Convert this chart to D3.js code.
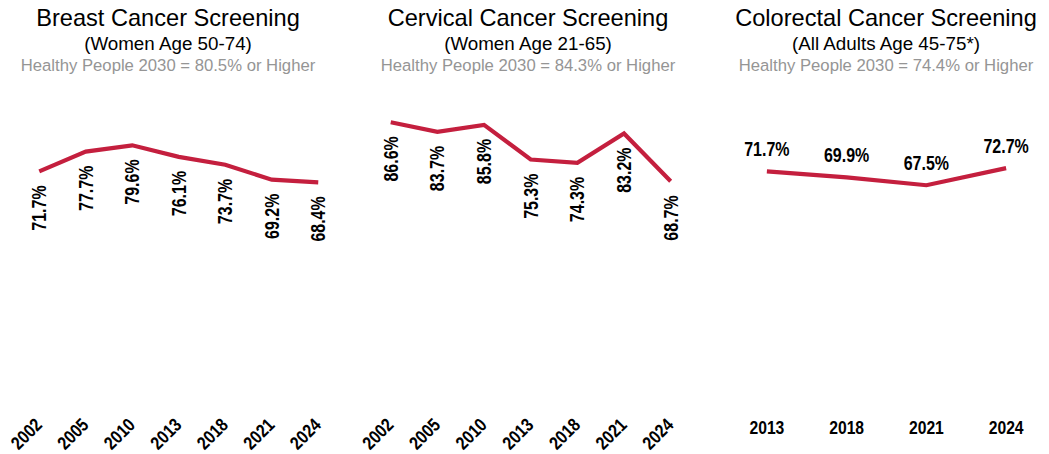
<!DOCTYPE html>
<html>
<head>
<meta charset="utf-8">
<script src="https://cdn.jsdelivr.net/npm/d3@7"></script>
<style>
  html, body { margin: 0; padding: 0; background: #fff; }
  svg { display: block; }
  .title { font-family: "Liberation Sans", Arial, sans-serif; fill: #000; }
  .goal { font-family: "Liberation Sans", Arial, sans-serif; fill: #959595; }
  .num { font-family: "Liberation Sans", Arial, sans-serif; font-weight: bold; fill: #000; }
</style>
</head>
<body>
<svg id="chart" width="1049" height="454"></svg>
<script>
// Screening rates by survey year
const breastYears = ["2002", "2005", "2010", "2013", "2018", "2021", "2024"];
const breastValues = [71.7, 77.7, 79.6, 76.1, 73.7, 69.2, 68.4];

const cervicalYears = ["2002", "2005", "2010", "2013", "2018", "2021", "2024"];
const cervicalValues = [86.6, 83.7, 85.8, 75.3, 74.3, 83.2, 68.7];

const colorectalYears = ["2013", "2018", "2021", "2024"];
const colorectalValues = [71.7, 69.9, 67.5, 72.7];

const panelTitles = ["Breast Cancer Screening", "Cervical Cancer Screening", "Colorectal Cancer Screening"];
const panelSubtitles = ["(Women Age 50-74)", "(Women Age 21-65)", "(All Adults Age 45-75*)"];
const panelGoals = [
  "Healthy People 2030 = 80.5% or Higher",
  "Healthy People 2030 = 84.3% or Higher",
  "Healthy People 2030 = 74.4% or Higher"
];

const svg = d3.select("#chart");
const lineColor = "#c41f3e";
// narrow bold look for numbers: squeeze glyphs along the text direction
const narrow = 0.82;

// shared vertical scale: percent
const y = d3.scaleLinear().domain([0, 100]).range([408, 78]);

const panels = [
  { years: breastYears, values: breastValues, range: [16, 341.5], center: 168, rotated: true },
  { years: cervicalYears, values: cervicalValues, range: [367.4, 694], center: 528, rotated: true },
  { years: colorectalYears, values: colorectalValues, range: [727, 1046], center: 886, rotated: false }
];

panels.forEach((p, i) => {
  const g = svg.append("g");
  const x = d3.scalePoint().domain(p.years).range(p.range).padding(0.5);

  // headings
  g.append("text").attr("class", "title")
    .attr("x", p.center).attr("y", 26)
    .attr("text-anchor", "middle").style("font-size", "23.6px")
    .text(panelTitles[i]);
  g.append("text").attr("class", "title")
    .attr("x", p.center).attr("y", 49.5)
    .attr("text-anchor", "middle").style("font-size", "18.8px")
    .text(panelSubtitles[i]);
  g.append("text").attr("class", "goal")
    .attr("x", p.center).attr("y", 70.5)
    .attr("text-anchor", "middle").style("font-size", "16.7px")
    .text(panelGoals[i]);

  const data = p.years.map((yr, k) => ({ year: yr, value: p.values[k] }));

  // trend line
  g.append("path")
    .datum(data)
    .attr("fill", "none")
    .attr("stroke", lineColor)
    .attr("stroke-width", 4.2)
    .attr("stroke-linejoin", "miter")
    .attr("stroke-linecap", "butt")
    .attr("d", d3.line().x(d => x(d.year)).y(d => y(d.value)));

  // value labels
  const labels = g.selectAll("text.val").data(data).enter().append("text")
    .attr("class", "num val")
    .style("font-size", "19.5px")
    .text(d => d.value.toFixed(1) + "%");

  if (p.rotated) {
    labels.attr("text-anchor", "end")
      .attr("dy", "0.36em")
      .attr("transform", d => `translate(${x(d.year)},${y(d.value) + 14}) rotate(-90) scale(${narrow},1)`);
  } else {
    labels.attr("text-anchor", "middle")
      .attr("transform", d => `translate(${x(d.year)},${y(d.value) - 15}) scale(${narrow},1)`);
  }

  // year axis labels
  const axis = g.selectAll("text.yr").data(p.years).enter().append("text")
    .attr("class", "num yr")
    .style("font-size", "18.5px")
    .text(d => d);

  if (p.rotated) {
    axis.attr("text-anchor", "end")
      .attr("transform", d => `translate(${x(d) + 4},426) rotate(-45) scale(0.85,1)`);
  } else {
    axis.attr("text-anchor", "middle")
      .attr("transform", d => `translate(${x(d)},434) scale(0.85,1)`);
  }
});
</script>
</body>
</html>
